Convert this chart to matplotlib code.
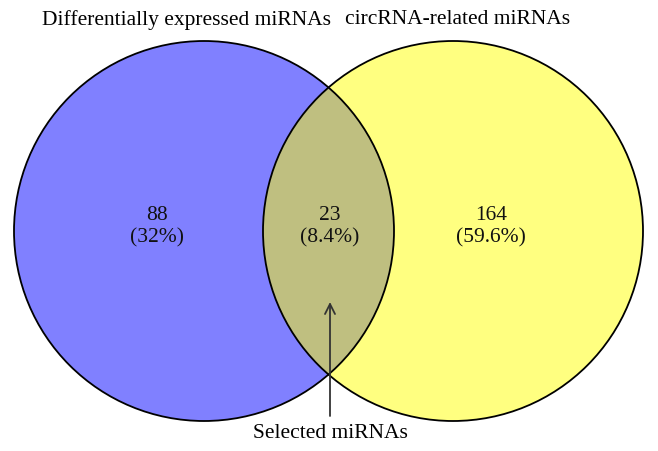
import matplotlib
matplotlib.use('Agg')
import matplotlib.pyplot as plt
from matplotlib.patches import Circle

# set names and region values
SET_NAMES = ['Differentially expressed miRNAs', 'circRNA-related miRNAs']
COUNTS = [88, 23, 164]
PERCENTS = ['32%', '8.4%', '59.6%']
ARROW_LABEL = 'Selected miRNAs'

BLUE = '#8080ff'
YELLOW = '#ffff80'
OLIVE = '#bfbf80'

plt.rcParams['font.family'] = ['Liberation Serif', 'DejaVu Serif']

fig = plt.figure(figsize=(6.58, 4.51), dpi=100)
ax = fig.add_axes([0, 0, 1, 1])
ax.set_xlim(0, 658)
ax.set_ylim(451, 0)
ax.set_aspect('equal')
ax.axis('off')

r = 190
left_c = (204, 231)
right_c = (453, 231)

ax.add_patch(Circle(left_c, r, facecolor=BLUE, edgecolor='none'))
ax.add_patch(Circle(right_c, r, facecolor=YELLOW, edgecolor='none'))
clip = Circle(left_c, r, transform=ax.transData)
mid = Circle(right_c, r, facecolor=OLIVE, edgecolor='none')
ax.add_patch(mid)
mid.set_clip_path(clip)
ax.add_patch(Circle(left_c, r, facecolor='none', edgecolor='black', lw=1.3))
ax.add_patch(Circle(right_c, r, facecolor='none', edgecolor='black', lw=1.3))

label_x = [157, 330, 491]
for x, n, p in zip(label_x, COUNTS, PERCENTS):
    ax.text(x, 227, f'{n}\n({p})', ha='center', va='center', fontsize=15.5,
            linespacing=1.25, color='#111111')

ax.text(186, 20, SET_NAMES[0], ha='center', va='center', fontsize=15.5)
ax.text(458, 20, SET_NAMES[1], ha='center', va='center', fontsize=15.5)

ax.annotate('', xy=(330, 302), xytext=(330, 416),
            arrowprops=dict(arrowstyle='->', color='#333333', lw=1.3,
                            mutation_scale=18, shrinkA=0, shrinkB=0))
ax.text(330, 434, ARROW_LABEL, ha='center', va='center', fontsize=15.5)

fig.savefig('out.png', dpi=100)
